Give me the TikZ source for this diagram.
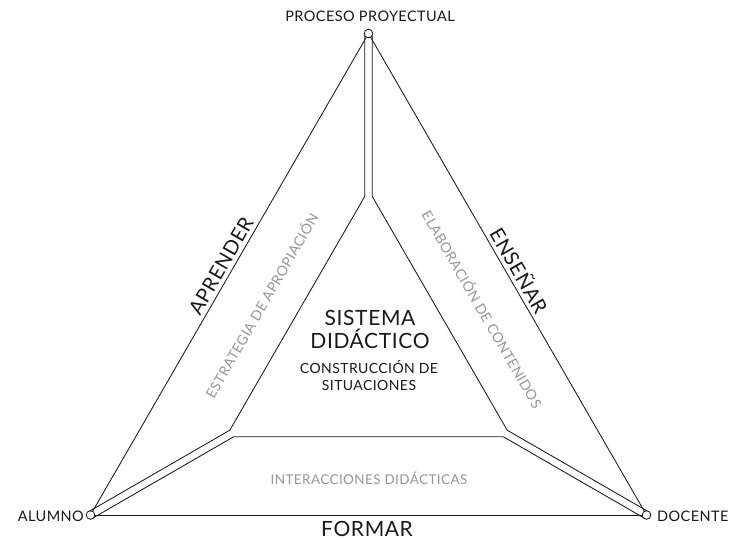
\documentclass[tikz,border=0pt]{standalone}
\usepackage{fontspec}
\setmainfont{Lato}[LetterSpace=3]
\usetikzlibrary{calc}
\definecolor{ink}{RGB}{25,25,25}
\definecolor{soft}{RGB}{150,150,150}
\tikzset{
  edge/.style={draw=ink, line width=0.85pt},
  vtx/.style={circle, draw=ink, fill=white, line width=0.85pt, minimum size=8.6pt, inner sep=0pt},
  corner/.style={font=\fontsize{14.5}{16}\selectfont, text=ink, inner sep=0pt},
  verb/.style={font=\fontsize{20}{22}\selectfont, text=ink, inner sep=0pt},
  side/.style={font=\fontsize{14}{16}\selectfont, text=soft, inner sep=0pt},
  core/.style={font=\fontsize{21}{23}\selectfont, text=ink, align=center, inner sep=0pt},
  sub/.style={font=\fontsize{14}{17}\selectfont, text=ink, align=center, inner sep=0pt},
}
\begin{document}
\begin{tikzpicture}[x=1pt, y=-1pt]
\useasboundingbox (0,0) rectangle (732,540);

% outer vertices
\coordinate (T) at (368.5,33.5);
\coordinate (L) at (90.5,515);
\coordinate (R) at (646.5,515);

% double spokes and inner triangle (each spoke is a pair of parallel lines)
\coordinate (TL) at (364.7,33.5);
\coordinate (TR) at (372.3,33.5);
\coordinate (TiL) at (364.7,196.5);
\coordinate (TiR) at (372.3,196.5);
\coordinate (LU) at (88.6,511.7);
\coordinate (LD) at (92.4,518.3);
\coordinate (LiU) at (229.8,430.2);
\coordinate (LiD) at (233.6,436.8);
\coordinate (RU) at (648.4,511.7);
\coordinate (RD) at (644.6,518.3);
\coordinate (RiU) at (507.2,430.2);
\coordinate (RiD) at (503.4,436.8);

\draw[edge] (TL) -- (TiL) -- (LiU) -- (LU);
\draw[edge] (LD) -- (LiD) -- (RiD) -- (RD);
\draw[edge] (RU) -- (RiU) -- (TiR) -- (TR);

% outer triangle
\draw[edge] (T) -- (L);
\draw[edge] (T) -- (R);
\draw[edge] (L) -- (R);

% vertex markers
\node[vtx] (vT) at (T) {};
\node[vtx] (vL) at (L) {};
\node[vtx] (vR) at (R) {};

% vertex labels
\node[corner] (pp) at (370,16) {PROCESO PROYECTUAL};
\node[corner, anchor=east] (al) at (84,516) {ALUMNO};
\node[corner, anchor=west] (do) at (657,516) {DOCENTE};

% side verbs
\node[verb, rotate=60] (ap) at (221,266) {APRENDER};
\node[verb, rotate=-60] (en) at (520,270) {ENSEÑAR};
\node[verb, font=\fontsize{21}{23}\selectfont] (fo) at (367,529) {FORMAR};

% inner band labels
\node[side, rotate=60] (es) at (261,305) {ESTRATEGIA DE APROPIACIÓN};
\node[side, rotate=-60] (el) at (483,309) {ELABORACIÓN DE CONTENIDOS};
\node[side, font=\fontsize{13.5}{15}\selectfont] (in) at (369,478) {INTERACCIONES DIDÁCTICAS};

% centre
\node[core] (sd) at (370,329) {SISTEMA\\DIDÁCTICO};
\node[sub] (cs) at (369,376) {CONSTRUCCIÓN DE\\SITUACIONES};
\end{tikzpicture}
\end{document}
